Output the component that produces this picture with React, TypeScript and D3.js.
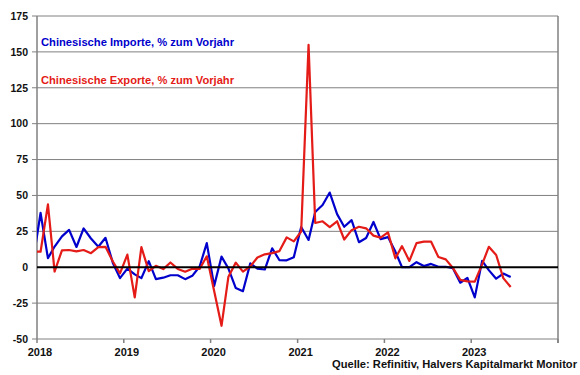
import React from "react";
import * as d3 from "d3";

// Monthly values, first month = Dec 2017 (clipped at the left axis)
const startYear = 2017;
const startMonth = 11; // December (0-based)

const importsYoY = [
  4.5,
  37.8, 6.3, 14.4, 21.5, 26.0, 14.1, 27.0, 20.0, 14.3, 20.5, 3.0, -7.6,
  -1.0, -5.0, -7.6, 4.2, -8.3, -7.3, -5.6, -5.6, -8.3, -6.0, 0.5, 16.8,
  -13.0, 7.4, -0.9, -14.5, -16.7, 2.7, -1.0, -1.6, 13.2, 5.0, 4.8, 7.0,
  28.0, 19.0, 38.5, 43.3, 52.0, 37.0, 28.2, 32.8, 17.4, 20.4, 31.5, 19.6,
  21.0, 10.9, 0.0, 0.0, 3.5, 0.8, 2.3, 0.3, 0.3, -0.7, -10.8, -7.4,
  -21.0, 4.4, -2.0, -8.0, -4.4, -6.8,
];

const exportsYoY = [
  10.9,
  10.8, 43.8, -3.0, 11.8, 12.0, 11.0, 12.0, 9.8, 14.0, 14.2, 4.0, -4.3,
  8.8, -21.0, 14.0, -2.7, 1.0, -1.3, 3.3, -1.2, -3.1, -1.0, -1.2, 7.6,
  -16.5, -40.8, -6.6, 3.2, -3.1, 0.5, 6.8, 9.0, 9.8, 11.2, 20.8, 18.0,
  24.9, 154.9, 30.8, 32.0, 28.0, 32.0, 19.3, 25.8, 28.2, 27.1, 22.0, 20.6,
  24.3, 6.2, 14.7, 4.4, 16.8, 17.8, 17.9, 7.1, 5.5, -0.5, -8.8, -9.9,
  -10.0, 2.0, 14.2, 8.5, -7.6, -13.8,
];

const yTicks = [-50, -25, 0, 25, 50, 75, 100, 125, 150, 175];
const xYears = [2018, 2019, 2020, 2021, 2022, 2023, 2024];
const xLabelYears = [2018, 2019, 2020, 2021, 2022, 2023];

const importsLabel = "Chinesische Importe, % zum Vorjahr";
const exportsLabel = "Chinesische Exporte, % zum Vorjahr";
const sourceLabel = "Quelle: Refinitiv, Halvers Kapitalmarkt Monitor";

const BLUE = "#0000CC";
const RED = "#E41B17";
const GRID = "#808080";

const W = 580;
const H = 375;
const left = 37;
const right = 558;
const top = 16;
const bottom = 339;

const dateOf = (i: number) => new Date(startYear, startMonth + i, 16);

export default function App() {
  const x = d3
    .scaleTime()
    .domain([new Date(2018, 0, 1), new Date(2024, 0, 1)])
    .range([left, right]);
  const y = d3.scaleLinear().domain([-50, 175]).range([bottom, top]);

  const line = d3
    .line<number>()
    .x((_, i) => x(dateOf(i)))
    .y((d) => y(d));

  const font = "'Liberation Sans', Arial, sans-serif";

  return (
    <svg
      width={W}
      height={H}
      style={{ position: "absolute", left: 0, top: 0, background: "#fff" }}
      fontFamily={font}
    >
      <defs>
        <clipPath id="plot">
          <rect x={left} y={0} width={right - left} height={H} />
        </clipPath>
      </defs>
      <rect x={0} y={0} width={W} height={H} fill="#fff" />

      {/* gridlines */}
      {yTicks.map((t) => (
        <g key={t}>
          {t !== 0 && (
            <line
              x1={left - 5}
              x2={right}
              y1={y(t)}
              y2={y(t)}
              stroke={GRID}
              strokeWidth={1}
            />
          )}
          <text
            x={28}
            y={y(t)}
            dy="0.36em"
            textAnchor="end"
            fontSize={10.5}
            fontWeight="bold"
            fill="#111"
          >
            {t}
          </text>
        </g>
      ))}

      {/* axes */}
      <line x1={left} x2={left} y1={top} y2={bottom} stroke={GRID} strokeWidth={1.5} />
      <line x1={right} x2={right} y1={top} y2={bottom + 4} stroke={GRID} strokeWidth={1.5} />
      {xYears.map((yr) => (
        <line
          key={yr}
          x1={x(new Date(yr, 0, 1))}
          x2={x(new Date(yr, 0, 1))}
          y1={bottom}
          y2={bottom + 4}
          stroke={GRID}
          strokeWidth={1.5}
        />
      ))}
      {xLabelYears.map((yr) => (
        <text
          key={yr}
          x={x(new Date(yr, 0, 1)) + 3}
          y={356}
          textAnchor="middle"
          fontSize={11}
          fontWeight="bold"
          fill="#111"
        >
          {yr}
        </text>
      ))}

      {/* lines */}
      <g clipPath="url(#plot)">
        <path
          d={line(importsYoY) || ""}
          fill="none"
          stroke={BLUE}
          strokeWidth={2.2}
          strokeLinejoin="round"
        />
        <path
          d={line(exportsYoY) || ""}
          fill="none"
          stroke={RED}
          strokeWidth={2.2}
          strokeLinejoin="round"
        />
      </g>

      {/* zero line */}
      <line x1={left} x2={right} y1={y(0)} y2={y(0)} stroke="#000" strokeWidth={2} />

      {/* legend labels */}
      <text
        x={41}
        y={45.5}
        fontSize={11.5}
        fontWeight="bold"
        fill={BLUE}
        textLength={193}
        lengthAdjust="spacingAndGlyphs"
      >
        {importsLabel}
      </text>
      <text
        x={41}
        y={84}
        fontSize={11.5}
        fontWeight="bold"
        fill={RED}
        textLength={193}
        lengthAdjust="spacingAndGlyphs"
      >
        {exportsLabel}
      </text>

      {/* source */}
      <text
        x={577}
        y={367.5}
        textAnchor="end"
        fontSize={11}
        fontWeight="bold"
        fill="#111"
        textLength={245}
        lengthAdjust="spacingAndGlyphs"
      >
        {sourceLabel}
      </text>
    </svg>
  );
}
